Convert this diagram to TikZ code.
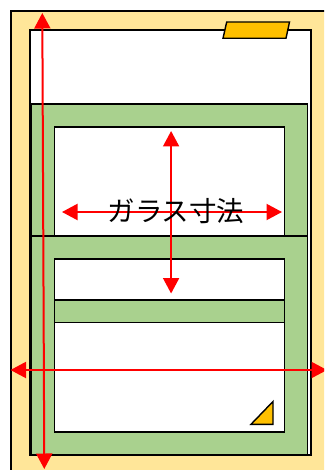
\documentclass[tikz,border=0pt]{standalone}
\usepackage{fontspec}
\newfontfamily\cjk{Noto Sans CJK JP}
\usetikzlibrary{arrows.meta}
\definecolor{framecol}{HTML}{FFE699}
\definecolor{sashcol}{HTML}{A9D18E}
\definecolor{markcol}{HTML}{FFC000}
\tikzset{
    part/.style={draw=black,line width=1.4pt},
    dimline/.style={red,line width=2pt,{Triangle[length=15.5pt,width=16pt]}-{Triangle[length=15.5pt,width=16pt]}},
}
\begin{document}
\begin{tikzpicture}[x=1pt,y=-1pt]
        \path[use as bounding box,clip] (0,0) rectangle (324,470);
        \fill[white] (0,0) rectangle (324,470);
        %% Frame
        \draw[part,fill=framecol] (11,11) rectangle (340,490);
        \draw[part,fill=white] (30,30) rectangle (311,455);
        \draw[part,fill=markcol] (223,38.3) -- (226.7,22) -- (289.5,22) -- (286,38.3) -- cycle;
        %% Upper sash
        \draw[part,fill=sashcol] (31.5,104) rectangle (307.5,236);
        \draw[part,fill=white] (54.5,127) rectangle (284.5,236);
        %% Lower sash
        \draw[part,fill=sashcol] (31.5,236) rectangle (307.5,455);
        \draw[part,fill=white] (54.5,259) rectangle (284.5,432);
        \draw[part,fill=sashcol] (54.5,300) rectangle (284.5,322.5);
        \draw[part,fill=markcol] (251,424.3) -- (273,401.5) -- (273,424.3) -- cycle;
        %% Dimensions
        \coordinate (frameT) at (42.3,13);
        \coordinate (frameB) at (44.3,469);
        \coordinate (frameL) at (10.5,370);
        \coordinate (frameR) at (327,370);
        \coordinate (glassT) at (171.1,131);
        \coordinate (glassB) at (171.1,293.5);
        \coordinate (glassL) at (62,212);
        \coordinate (glassR) at (282,212);
        \draw[dimline] (frameT) -- (frameB);
        \draw[dimline] (frameL) -- (frameR);
        \draw[dimline] (glassT) -- (glassB);
        \draw[dimline] (glassL) -- (glassR);
        \node[font=\cjk\fontsize{27.5}{30}\selectfont,inner sep=0pt] (size) at (176,211.5) {ガラス寸法};
    \end{tikzpicture}
\end{document}
